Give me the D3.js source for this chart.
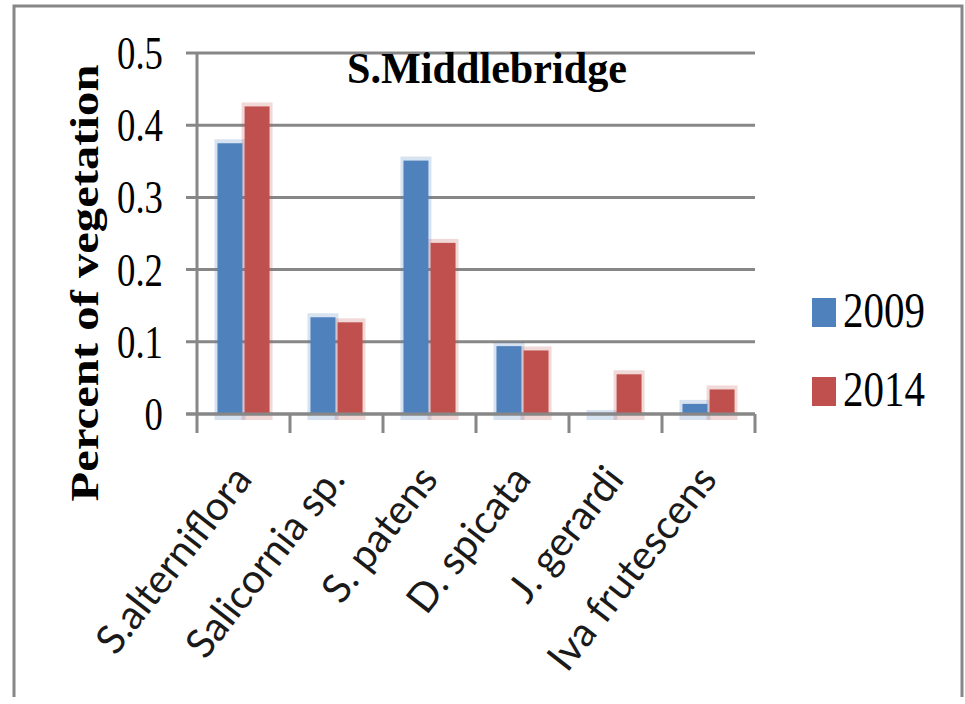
<!DOCTYPE html>
<html>
<head>
<meta charset="utf-8">
<script src="https://cdn.jsdelivr.net/npm/d3@7"></script>
<style>
  body { margin: 0; background: #fff; }
</style>
</head>
<body>
<div class="canvas"></div>
<script>
const categories = ["S.alterniflora", "Salicornia sp.", "S. patens", "D. spicata", "J. gerardi", "Iva frutescens"];
const seriesNames = ["2009", "2014"];
const values2009 = [0.375, 0.134, 0.351, 0.094, 0.0, 0.014];
const values2014 = [0.426, 0.127, 0.237, 0.088, 0.055, 0.034];
const yTicks = [0, 0.1, 0.2, 0.3, 0.4, 0.5];
const chartTitle = "S.Middlebridge";
const yTitle = "Percent of vegetation";

const colors = { "2009": "#4f81bd", "2014": "#c0504d" };
const gridColor = "#878787";

const width = 965;
const height = 704;
const plot = { left: 197, right: 755, top: 53, bottom: 414 };

const svg = d3
  .select(".canvas")
  .append("svg")
  .attr("width", width)
  .attr("height", height);

// outer frame (no bottom edge in the picture)
svg
  .append("path")
  .attr("d", "M14,697V6H962V697")
  .attr("fill", "none")
  .attr("stroke", gridColor)
  .attr("stroke-width", 3);

const y = d3.scaleLinear().domain([0, 0.5]).range([plot.bottom, plot.top]);

const x0 = d3
  .scaleBand()
  .domain(categories)
  .range([plot.left, plot.right])
  .paddingInner(0.44)
  .paddingOuter(0.22);

const x1 = d3
  .scaleBand()
  .domain(seriesNames)
  .range([0, x0.bandwidth()])
  .paddingInner(0.08);

// category boundaries, for the tick marks
const step = x0.step();
const boundaries = d3.range(categories.length + 1).map((i) => plot.left + i * step);

// gridlines
svg
  .append("g")
  .selectAll("line")
  .data(yTicks)
  .enter()
  .append("line")
  .attr("x1", plot.left - 11)
  .attr("x2", plot.right)
  .attr("y1", (d) => y(d))
  .attr("y2", (d) => y(d))
  .attr("stroke", gridColor)
  .attr("stroke-width", 3);

// bars
const rows = categories.map((c, i) => ({
  category: c,
  values: [
    { series: "2009", value: values2009[i] },
    { series: "2014", value: values2014[i] }
  ]
}));

const group = svg
  .append("g")
  .selectAll("g")
  .data(rows)
  .enter()
  .append("g")
  .attr("transform", (d) => `translate(${x0(d.category)},0)`);

// soft fringe around each bar
group
  .selectAll("rect.halo")
  .data((d) => d.values)
  .enter()
  .append("rect")
  .attr("class", "halo")
  .attr("x", (d) => x1(d.series) - 3)
  .attr("width", x1.bandwidth() + 6)
  .attr("y", (d) => y(d.value) - 4)
  .attr("height", (d) => y(0) - y(d.value) + 10)
  .attr("fill", (d) => colors[d.series])
  .attr("opacity", 0.22);

group
  .selectAll("rect.bar")
  .data((d) => d.values)
  .enter()
  .append("rect")
  .attr("class", "bar")
  .attr("x", (d) => x1(d.series))
  .attr("width", x1.bandwidth())
  .attr("y", (d) => y(d.value))
  .attr("height", (d) => y(0) - y(d.value))
  .attr("fill", (d) => colors[d.series]);

// axes lines drawn over bars
svg
  .append("line")
  .attr("x1", plot.left - 11)
  .attr("x2", plot.right)
  .attr("y1", y(0))
  .attr("y2", y(0))
  .attr("stroke", gridColor)
  .attr("stroke-width", 3);

svg
  .append("line")
  .attr("x1", plot.left)
  .attr("x2", plot.left)
  .attr("y1", y(0.5) - 1)
  .attr("y2", y(0) + 19)
  .attr("stroke", gridColor)
  .attr("stroke-width", 3);

svg
  .append("g")
  .selectAll("line")
  .data(boundaries.slice(1))
  .enter()
  .append("line")
  .attr("x1", (d) => d)
  .attr("x2", (d) => d)
  .attr("y1", y(0))
  .attr("y2", y(0) + 19)
  .attr("stroke", gridColor)
  .attr("stroke-width", 3);

// helper: squeeze text horizontally so it spans the given width
function squeeze(node, targetWidth) {
  return targetWidth / node.getComputedTextLength();
}

// y tick labels
const tickLabels = svg
  .append("g")
  .selectAll("g")
  .data(yTicks)
  .enter()
  .append("g");

tickLabels
  .append("text")
  .text((d) => (d === 0 ? "0" : d3.format(".1f")(d)))
  .attr("text-anchor", "end")
  .attr("dy", "0.34em")
  .style("font-family", "Liberation Serif, serif")
  .style("font-size", "47px")
  .style("fill", "#000");

const tickScale = squeeze(tickLabels.filter((d) => d === 0.5).select("text").node(), 46);
tickLabels.attr("transform", (d) => `translate(163,${y(d)}) scale(${tickScale},1)`);

// title
const titleG = svg.append("g");
const titleText = titleG
  .append("text")
  .text(chartTitle)
  .attr("text-anchor", "middle")
  .style("font-family", "Liberation Serif, serif")
  .style("font-weight", "bold")
  .style("font-size", "45px");
titleG.attr("transform", `translate(487,83) scale(${squeeze(titleText.node(), 280)},1)`);

// y axis title
const yTitleG = svg.append("g");
const yTitleText = yTitleG
  .append("text")
  .text(yTitle)
  .attr("text-anchor", "middle")
  .style("font-family", "Liberation Serif, serif")
  .style("font-weight", "bold")
  .style("font-size", "48px");
const yTitleSize = 48 * 437 / yTitleText.node().getComputedTextLength();
yTitleText.style("font-size", yTitleSize + "px");
yTitleG.attr("transform", `translate(98,283) scale(0.84,1) rotate(-90)`);

// category labels, rotated
const catLabels = svg
  .append("g")
  .selectAll("g")
  .data(categories)
  .enter()
  .append("g")
  .attr("transform", (d) => `translate(${x0(d) + x0.bandwidth() / 2 + 10},480) rotate(-52)`);

catLabels
  .append("text")
  .text((d) => d)
  .attr("text-anchor", "end")
  .style("font-family", "Lato, sans-serif")
  .style("font-size", "36px")
  .style("fill", "#1a1a1a");

const ivaLen = catLabels.filter((d) => d === "Iva frutescens").select("text").node().getComputedTextLength();
catLabels.select("text").style("font-size", 36 * 246 / ivaLen + "px");

// legend
const legend = svg
  .append("g")
  .selectAll("g")
  .data(seriesNames)
  .enter()
  .append("g")
  .attr("transform", (d, i) => `translate(812,${298 + i * 79})`);

legend
  .append("rect")
  .attr("width", 24)
  .attr("height", 29)
  .attr("fill", (d) => colors[d]);

const legendText = legend
  .append("g")
  .append("text")
  .text((d) => d)
  .style("font-family", "Liberation Serif, serif")
  .style("font-size", "50px");

const legendScale = squeeze(legendText.node(), 82);
legend.select("g").attr("transform", `translate(31,29) scale(${legendScale},1)`);
</script>
</body>
</html>
